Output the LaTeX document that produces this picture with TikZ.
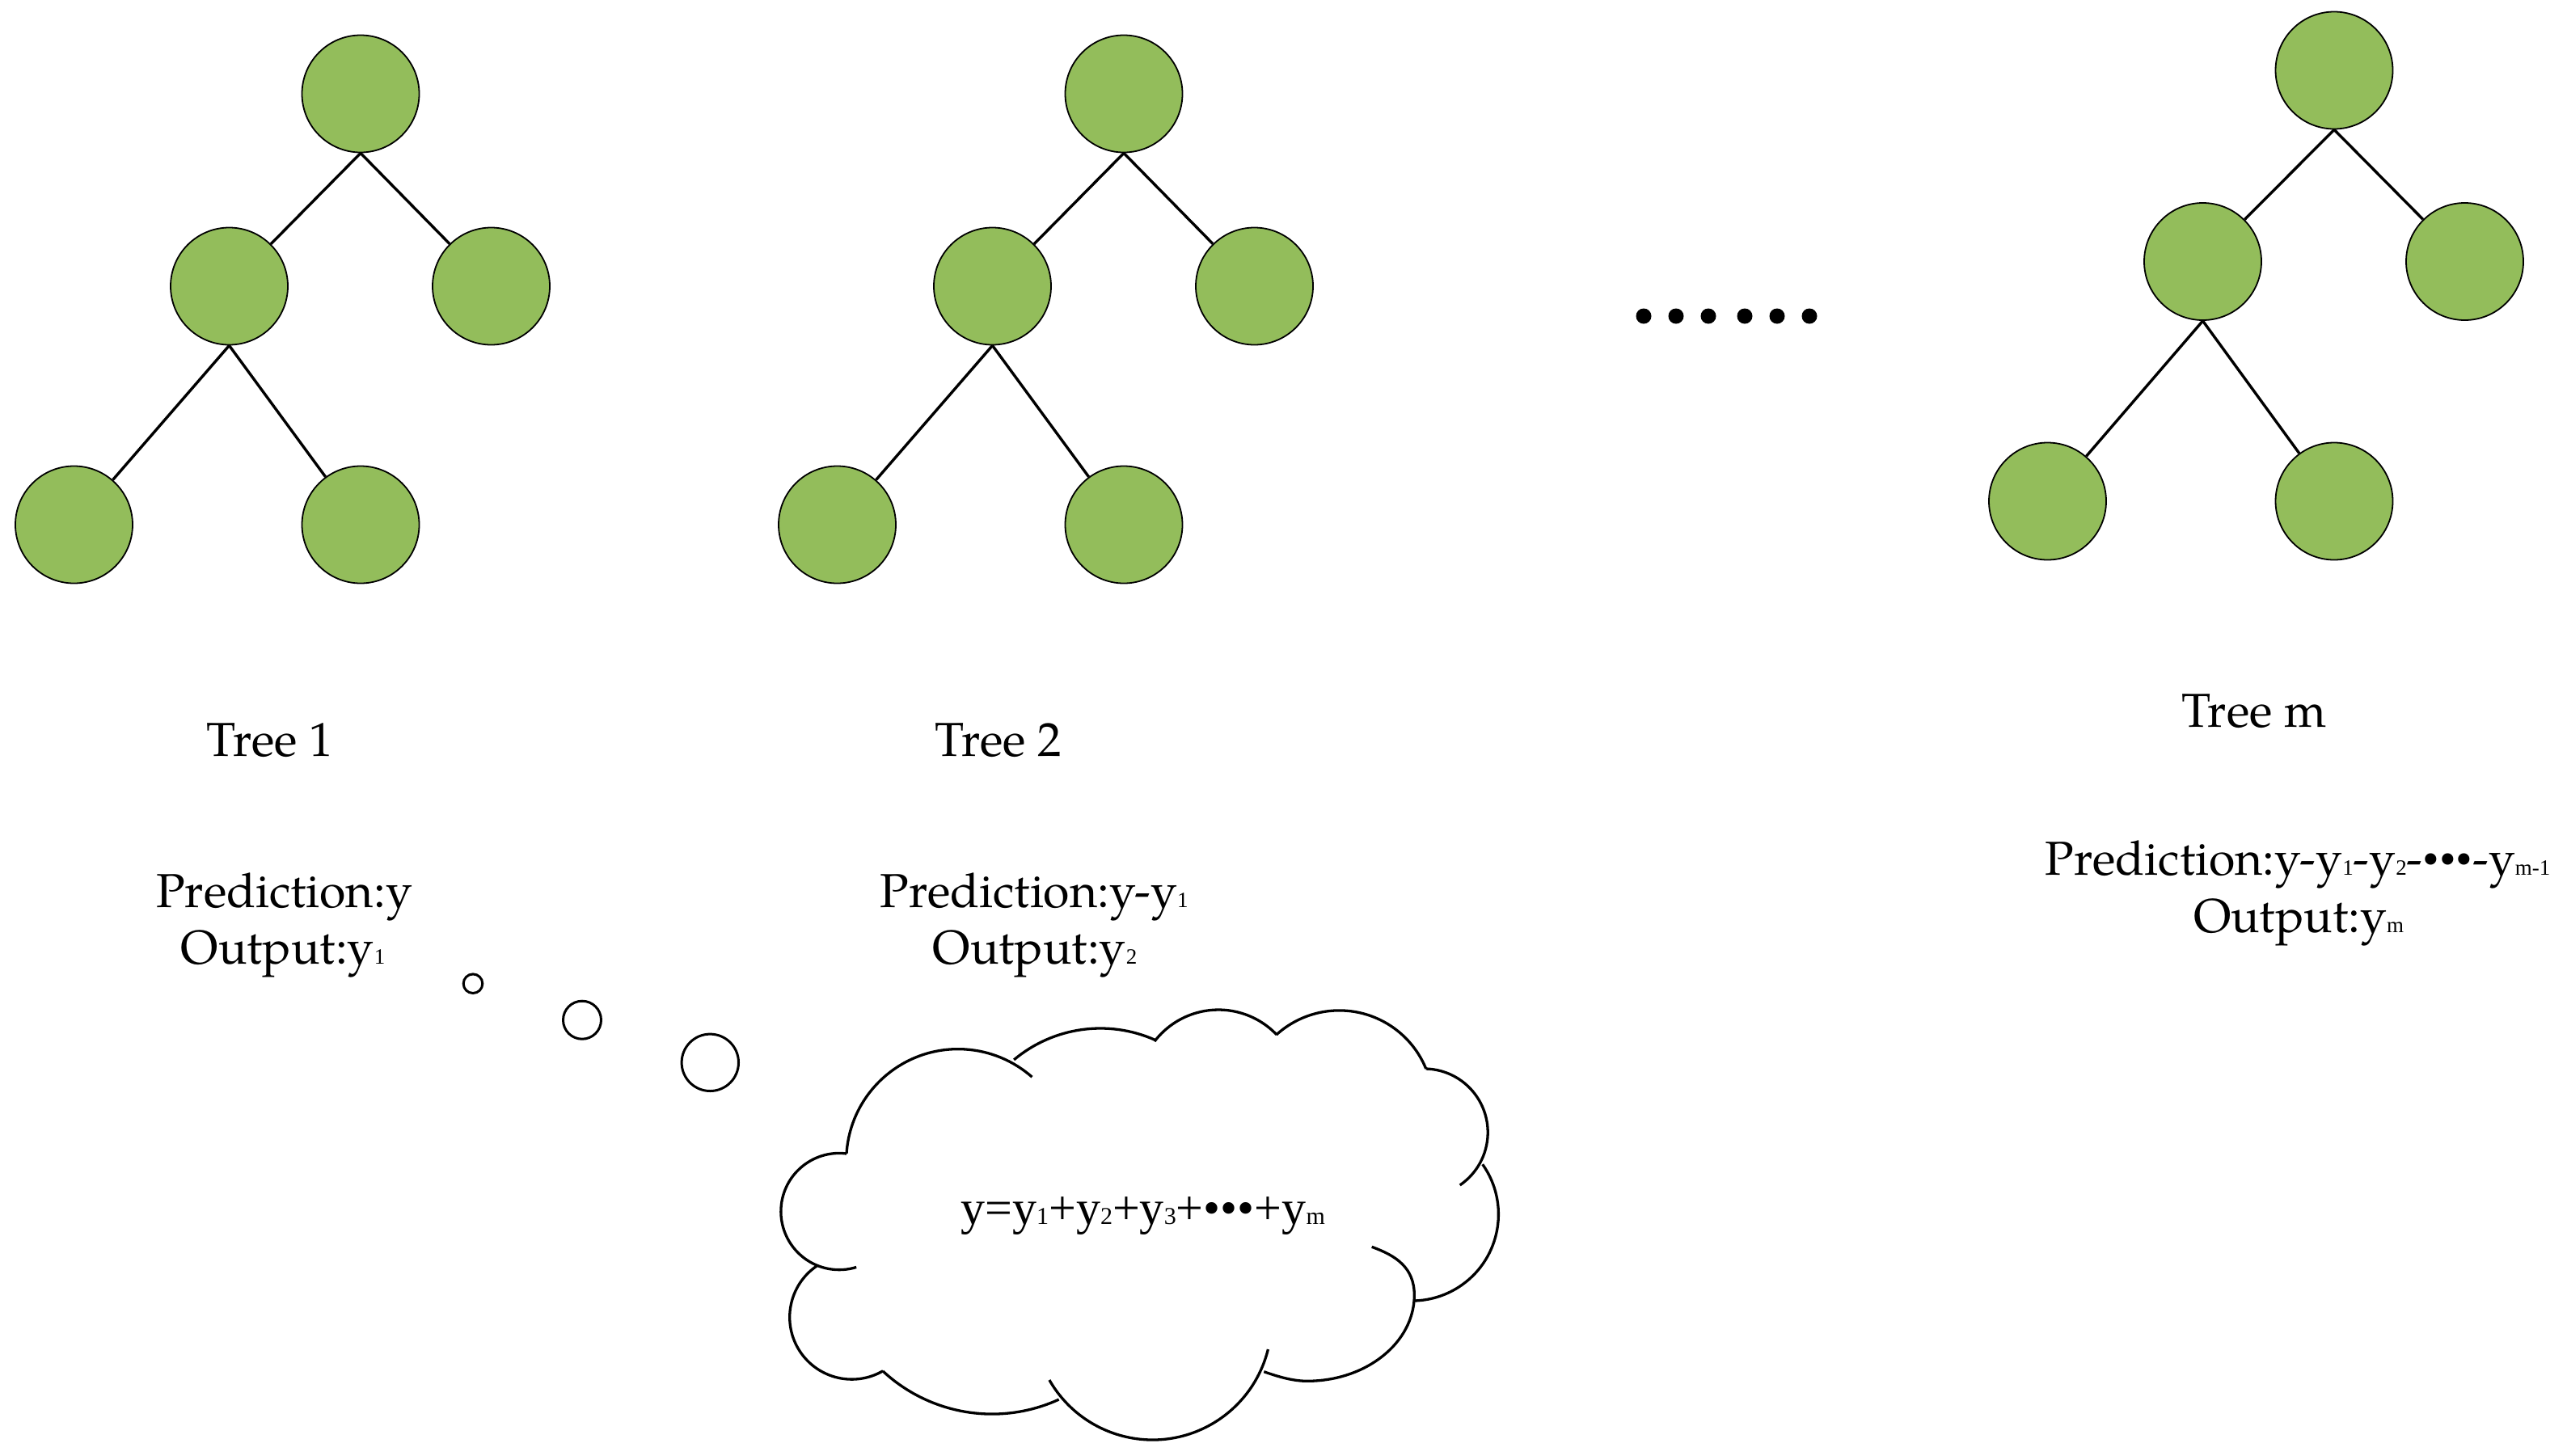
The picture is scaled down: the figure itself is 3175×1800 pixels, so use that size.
\documentclass[tikz,border=0pt]{standalone}
\usepackage{fontspec}
\newfontfamily\tnr{Liberation Serif}
\newfontfamily\pal{texgyrepagella-regular.otf}
\newcommand\subs[1]{{\tnr\fontsize{27}{30}\selectfont #1}}
\newcommand\csubs[1]{{\tnr\fontsize{30}{32}\selectfont #1}}
\definecolor{treegreen}{RGB}{147,189,91}
\begin{document}
\begin{tikzpicture}[x=1pt,y=-1pt,
  leaf/.style={circle,draw=black,line width=1.8pt,fill=treegreen,minimum size=145pt,inner sep=0pt},
  edgeline/.style={line width=3.4pt},
  lbl/.style={anchor=base,inner sep=0pt,font=\pal\fontsize{59}{70}\selectfont},
  cloudline/.style={line width=3.3pt},
  bubble/.style={circle,draw=black,line width=3pt,inner sep=0pt},
  dotnode/.style={circle,fill=black,inner sep=0pt,minimum size=19pt}]
\useasboundingbox (0,0) rectangle (3175,1800);
\fill[white] (0,0) rectangle (3175,1800);
% Tree 1
\node[leaf] (t1r) at (446,116) {};
\node[leaf] (t1a) at (283.5,354) {};
\node[leaf] (t1b) at (607.5,354) {};
\node[leaf] (t1c) at (91.5,649) {};
\node[leaf] (t1d) at (446,649) {};
\draw[edgeline] (t1r.south) -- (t1a);
\draw[edgeline] (t1r.south) -- (t1b);
\draw[edgeline] (t1a.south) -- (t1c);
\draw[edgeline] (t1a.south) -- (t1d);
% Tree 2
\node[leaf] (t2r) at (1390,116) {};
\node[leaf] (t2a) at (1227.5,354) {};
\node[leaf] (t2b) at (1551.5,354) {};
\node[leaf] (t2c) at (1035.5,649) {};
\node[leaf] (t2d) at (1390,649) {};
\draw[edgeline] (t2r.south) -- (t2a);
\draw[edgeline] (t2r.south) -- (t2b);
\draw[edgeline] (t2a.south) -- (t2c);
\draw[edgeline] (t2a.south) -- (t2d);
% Tree m
\node[leaf] (tmr) at (2887,87) {};
\node[leaf] (tma) at (2724.5,323.5) {};
\node[leaf] (tmb) at (3048.5,323.5) {};
\node[leaf] (tmc) at (2532.5,620) {};
\node[leaf] (tmd) at (2887,620) {};
\draw[edgeline] (tmr.south) -- (tma);
\draw[edgeline] (tmr.south) -- (tmb);
\draw[edgeline] (tma.south) -- (tmc);
\draw[edgeline] (tma.south) -- (tmd);
% dots
\node[dotnode] (d1) at (2033,391) {};
\node[dotnode] (d2) at (2073,391) {};
\node[dotnode] (d3) at (2113,391) {};
\node[dotnode] (d4) at (2158,391) {};
\node[dotnode] (d5) at (2198,391) {};
\node[dotnode] (d6) at (2238,391) {};
% labels
\node[lbl] (l1) at (334,935) {Tree 1};
\node[lbl] (l2) at (1235,935) {Tree 2};
\node[lbl] (lm) at (2788,899) {Tree m};
\node[lbl] (p1) at (351.5,1122) {Prediction:y};
\node[lbl] (o1) at (350,1192) {Output:y\subs{1}};
\node[lbl] (p2) at (1279,1122) {Prediction:y-y\subs{1}};
\node[lbl] (o2) at (1280,1192) {Output:y\subs{2}};
\node[lbl] (pm) at (2842,1082) {Prediction:y-y\subs{1}-y\subs{2}-{\tnr •••}-y\subs{m-1}};
\node[lbl] (om) at (2843,1153) {Output:y\subs{m}};
% thought bubbles
\node[bubble,minimum size=23.6pt] (b1) at (585,1216.7) {};
\node[bubble,minimum size=47pt] (b2) at (720,1261.7) {};
\node[bubble,minimum size=70.4pt] (b3) at (878.3,1314.3) {};
% cloud
\draw[cloudline] (1047,1427) arc[start angle=-176.3,end angle=-48.6,radius=138.3];
\draw[cloudline] (1047,1427) arc[start angle=-82.8,end angle=-287.1,radius=72.1];
\draw[cloudline] (1010.8,1565.5) arc[start angle=-123.8,end angle=-300.1,radius=76.8];
\draw[cloudline] (1092,1696) arc[start angle=132.9,end angle=65.4,radius=198.4];
\draw[cloudline] (1297.9,1707) arc[start angle=150.2,end angle=13.8,radius=147.1];
\draw[cloudline] (1696.7,1542.3) .. controls (1726.8,1553.2) and (1749.3,1568) .. (1749.3,1602)
   .. controls (1749.3,1660.7) and (1689.9,1708.3) .. (1616.7,1708.3)
   .. controls (1598.7,1708.3) and (1580.2,1702.6) .. (1563.3,1696.7);
\draw[cloudline] (1254.1,1310.9) arc[start angle=-130,end angle=-66,radius=166.3];
\draw[cloudline] (1428,1288.1) arc[start angle=-142.6,end angle=-43.7,radius=99.5];
\draw[cloudline] (1578.7,1279.9) arc[start angle=-132.2,end angle=-22.2,radius=115.8];
\draw[cloudline] (1763.6,1322) arc[start angle=-88.4,end angle=55.8,radius=78.8];
\draw[cloudline] (1833.7,1440.2) arc[start angle=-35.3,end angle=88.6,radius=107];
\node[anchor=base,inner sep=0pt,font=\tnr\fontsize{60}{70}\selectfont] (ctext) at (1413.6,1514.6)
  {y=y\csubs{1}+y\csubs{2}+y\csubs{3}+•••+y\csubs{m}};
\end{tikzpicture}
\end{document}
